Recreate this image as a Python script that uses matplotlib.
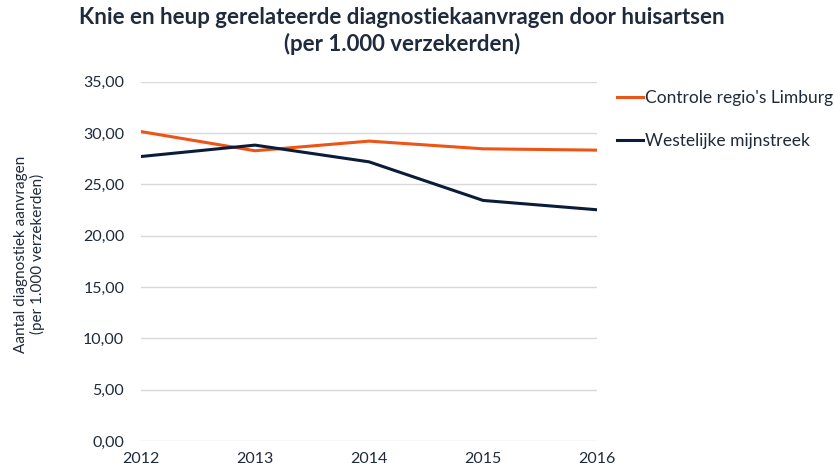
import matplotlib.pyplot as plt
from matplotlib.ticker import FuncFormatter

# Data
years = [2012, 2013, 2014, 2015, 2016]
controle = [30.15, 28.28, 29.22, 28.47, 28.34]
westelijk = [27.72, 28.83, 27.20, 23.44, 22.53]
series_names = ["Controle regio's Limburg", "Westelijke mijnstreek"]

text_color = '#1f2a3c'
plt.rcParams['font.family'] = ['Lato', 'DejaVu Sans']

fig = plt.figure(figsize=(8.34, 4.72), dpi=100)
ax = fig.add_axes([0.169, 0.0657, 0.547, 0.761])

ax.plot(years, controle, color='#ec5516', linewidth=2.2, label=series_names[0])
ax.plot(years, westelijk, color='#0b1c3a', linewidth=2.2, label=series_names[1])

ax.set_xlim(2012, 2016)
ax.set_ylim(0, 35)
ax.set_xticks(years)
ax.set_yticks(range(0, 36, 5))
ax.yaxis.set_major_formatter(FuncFormatter(lambda v, p: f"{v:.2f}".replace('.', ',')))
ax.grid(axis='y', color='#d9d9d9', linewidth=1)
ax.set_axisbelow(True)
for s in ax.spines.values():
    s.set_visible(False)
ax.tick_params(length=0, labelsize=11.5, colors=text_color)
ax.tick_params(axis='x', pad=8)
ax.tick_params(axis='y', pad=12)

ax.set_ylabel("Aantal diagnostiek aanvragen\n(per 1.000 verzekerden)", fontsize=11,
              color=text_color)
ax.yaxis.set_label_coords(-0.21, 0.52)

fig.suptitle("Knie en heup gerelateerde diagnostiekaanvragen door huisartsen\n(per 1.000 verzekerden)",
             x=0.482, y=0.985, fontsize=16, fontweight='bold', color=text_color, linespacing=1.25)

ax.legend(loc='upper left', bbox_to_anchor=(1.01, 1.02), frameon=False, fontsize=12.5,
          handlelength=1.5, handletextpad=0.1, labelspacing=1.55, labelcolor=text_color)

fig.savefig('out.png', dpi=100)
